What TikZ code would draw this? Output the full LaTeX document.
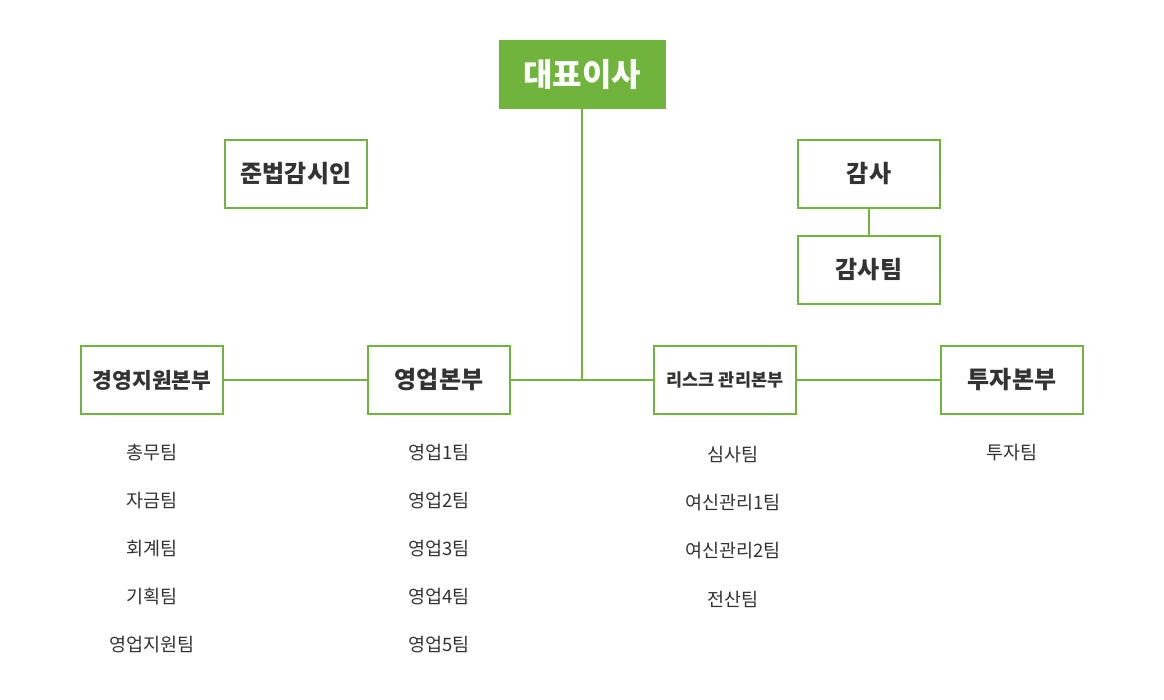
\documentclass[tikz,border=0pt]{standalone}
\usepackage{fontspec}
\setmainfont{Noto Sans CJK KR}
\usepackage{tikz}
\usetikzlibrary{positioning}
\definecolor{leaf}{HTML}{70B43E}
\definecolor{ink}{HTML}{333333}

\begin{document}
\begin{tikzpicture}[x=1pt,y=-1pt]
\tikzstyle{unit}=[draw=leaf,line width=2.5pt,fill=white,minimum width=142pt,minimum height=68pt,inner sep=0pt,text=ink,font=\bfseries\fontsize{24}{28}\selectfont]
\tikzstyle{team}=[text=ink,inner sep=0pt,font=\fontsize{18.5}{22}\selectfont]
\tikzstyle{link}=[draw=leaf,line width=2pt]
\useasboundingbox (0,0) rectangle (1164,700);

\node[fill=leaf,minimum width=167pt,minimum height=69pt,inner sep=0pt,text=white,font=\bfseries\fontsize{32}{36}\selectfont] (CEO) at (582,74.5) {대표이사};
\node[unit] (COMP) at (296,174) {준법감시인};
\node[unit] (AUD) at (869,174) {감사};
\node[unit] (AUDT) at (869,270) {감사팀};

\node[unit,font=\bfseries\fontsize{21.5}{25}\selectfont] (MGMT) at (152,380) {경영지원본부};
\node[unit] (SALES) at (439,380) {영업본부};
\node[unit,font=\bfseries\fontsize{17.5}{21}\selectfont] (RISK) at (725,380) {리스크 관리본부};
\node[unit] (INV) at (1012,380) {투자본부};
\coordinate (J) at (582,380);

% teams
\node[team] (M1) at (152,453) {총무팀};
\node[team,below=48pt of M1.center,anchor=center] (M2) {자금팀};
\node[team,below=48pt of M2.center,anchor=center] (M3) {회계팀};
\node[team,below=48pt of M3.center,anchor=center] (M4) {기획팀};
\node[team,below=48pt of M4.center,anchor=center] (M5) {영업지원팀};

\node[team] (S1) at (439,453) {영업1팀};
\node[team,below=48pt of S1.center,anchor=center] (S2) {영업2팀};
\node[team,below=48pt of S2.center,anchor=center] (S3) {영업3팀};
\node[team,below=48pt of S3.center,anchor=center] (S4) {영업4팀};
\node[team,below=48pt of S4.center,anchor=center] (S5) {영업5팀};

\node[team] (R1) at (733,455) {심사팀};
\node[team,below=48pt of R1.center,anchor=center] (R2) {여신관리1팀};
\node[team,below=48pt of R2.center,anchor=center] (R3) {여신관리2팀};
\node[team,below=48pt of R3.center,anchor=center] (R4) {전산팀};

\node[team] (I1) at (1012,453) {투자팀};

\draw[link] (CEO.south) -- (J);
\draw[link] (MGMT.east) -- (SALES.west);
\draw[link] (SALES.east) -- (RISK.west);
\draw[link] (RISK.east) -- (INV.west);
\draw[link] (AUD.south) -- (AUDT.north);
\end{tikzpicture}
\end{document}
